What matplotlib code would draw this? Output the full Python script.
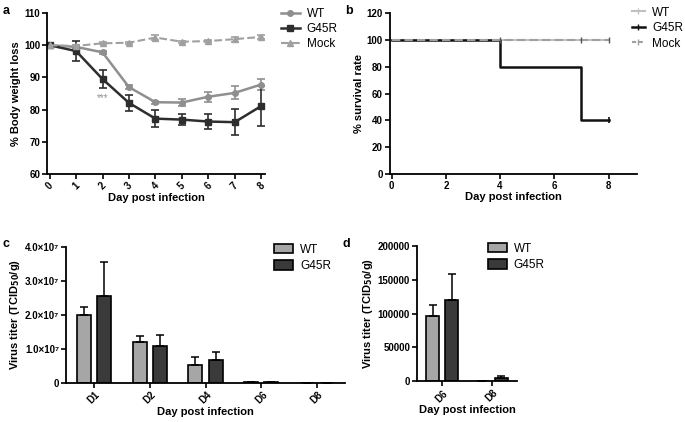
import matplotlib
matplotlib.use("Agg")
import matplotlib.pyplot as plt
from matplotlib.lines import Line2D
import numpy as np

# ---- Data ----
days = [0, 1, 2, 3, 4, 5, 6, 7, 8]
wt_weight = [100, 99.5, 97.8, 87.0, 82.3, 82.2, 84.0, 85.2, 87.8]
wt_err = [0.3, 0.5, 0.4, 0.5, 0.5, 1.0, 1.5, 2.0, 1.8]
g45r_weight = [100, 98.2, 89.5, 82.1, 77.2, 76.9, 76.3, 76.1, 81.1]
g45r_err = [0.3, 3.2, 2.9, 2.6, 2.7, 1.8, 2.4, 4.0, 6.2]
mock_weight = [100, 99.8, 100.6, 100.8, 102.4, 101.1, 101.3, 101.9, 102.6]
mock_err = [0.2, 0.3, 0.3, 0.3, 0.7, 0.3, 0.3, 0.8, 0.7]

surv_days = [0, 4, 7, 8]
wt_surv = [100, 100, 100, 100]
g45r_surv = [100, 80, 40, 40]
mock_surv = [100, 100, 100, 100]
censor_days = [4, 7, 8]

c_cats = ["D1", "D2", "D4", "D6", "D8"]
c_wt = [2.01e7, 1.21e7, 0.52e7, 0.02e7, 0.0]
c_wt_err = [0.23e7, 0.17e7, 0.24e7, 0.0, 0.0]
c_g45r = [2.55e7, 1.09e7, 0.67e7, 0.02e7, 0.0]
c_g45r_err = [1.00e7, 0.32e7, 0.25e7, 0.0, 0.0]
c_ticks = [0, 1e7, 2e7, 3e7, 4e7]
c_ticklabels = ["0", "1.0×10⁷", "2.0×10⁷", "3.0×10⁷", "4.0×10⁷"]

d_cats = ["D6", "D8"]
d_wt = [96000, 0]
d_wt_err = [17000, 0]
d_g45r = [120500, 4000]
d_g45r_err = [37500, 3400]
d_ticks = [0, 50000, 100000, 150000, 200000]

# ---- Style ----
plt.rcParams['font.family'] = ['Liberation Sans', 'DejaVu Sans']
C_WT = "#8f8f8f"
C_G45R = "#2e2e2e"
C_MOCK = "#a0a0a0"
BAR_WT = "#a6a6a6"
BAR_G = "#3a3a3a"

fig = plt.figure(figsize=(6.85, 4.22), dpi=100)

def style_axes(ax):
    for s in ["top", "right"]:
        ax.spines[s].set_visible(False)
    for s in ["left", "bottom"]:
        ax.spines[s].set_linewidth(1.3)
    ax.tick_params(width=1.2, length=3.5, labelsize=7, pad=1.5)
    for lab in ax.get_xticklabels() + ax.get_yticklabels():
        lab.set_fontweight("bold")

# ---- Panel a ----
axa = fig.add_axes([0.0686, 0.5877, 0.3184, 0.3813])
ekw = dict(fmt="none", capsize=3, elinewidth=1.2, capthick=1.2)
axa.errorbar(days, wt_weight, yerr=wt_err, ecolor=C_WT, **ekw)
axa.errorbar(days, g45r_weight, yerr=g45r_err, ecolor=C_G45R, **ekw)
axa.errorbar(days, mock_weight, yerr=mock_err, ecolor=C_MOCK, **ekw)
axa.plot(days, wt_weight, color=C_WT, marker="o", ms=4, lw=1.8, label="WT")
axa.plot(days, g45r_weight, color=C_G45R, marker="s", ms=4, lw=1.8, label="G45R")
axa.plot(days, mock_weight, color=C_MOCK, marker="^", ms=4, lw=1.5, ls="--",
         label="Mock")
axa.text(2, 83.6, "***", color=C_WT, ha="center", va="center", fontsize=7)
axa.set_ylim(60, 110)
axa.set_xlim(-0.1, 8.15)
axa.set_yticks([60, 70, 80, 90, 100, 110])
axa.set_xticks(days)
axa.set_xticklabels([str(d) for d in days], rotation=45)
axa.set_xlabel("Day post infection", fontsize=8, fontweight="bold", labelpad=1)
axa.set_ylabel("% Body weight loss", fontsize=8, fontweight="bold", labelpad=2)
style_axes(axa)
axa.legend(loc="upper left", bbox_to_anchor=(1.05, 1.06), frameon=False,
           fontsize=8.5, handlelength=1.6, borderaxespad=0, labelspacing=0.25,
           handletextpad=0.6)
fig.text(0.004, 0.975, "a", fontsize=9, fontweight="bold", va="center")

# ---- Panel b ----
axb = fig.add_axes([0.569, 0.5877, 0.361, 0.3813])
axb.step(surv_days, wt_surv, where="post", color="#c0c0c0", lw=1.5)
axb.step(surv_days, g45r_surv, where="post", color="#111111", lw=1.8)
axb.step(surv_days, mock_surv, where="post", color="#a0a0a0", lw=1.5, ls=(0, (4, 2)))
axb.plot(censor_days, [100] * len(censor_days), ls="none", marker="|", ms=5,
         color="#555555", mew=1)
axb.plot([8], [40], ls="none", marker="|", ms=5, color="#111111", mew=1.2)
axb.set_xlim(-0.07, 9.05)
axb.set_ylim(0, 120)
axb.set_xticks([0, 2, 4, 6, 8])
axb.set_yticks([0, 20, 40, 60, 80, 100, 120])
axb.set_xlabel("Day post infection", fontsize=8, fontweight="bold", labelpad=1)
axb.set_ylabel("% survival rate", fontsize=8, fontweight="bold", labelpad=2)
style_axes(axb)
hb = [Line2D([], [], color="#c0c0c0", lw=1.5, marker="|", ms=4, mew=1),
      Line2D([], [], color="#111111", lw=1.8, marker="|", ms=4, mew=1),
      Line2D([], [], color="#a0a0a0", lw=1.5, ls=(0, (2, 1.2)), marker="|", ms=4, mew=1)]
axb.legend(hb, ["WT", "G45R", "Mock"], loc="upper left",
           bbox_to_anchor=(0.96, 1.07), frameon=False,
           fontsize=8.5, handlelength=1.1, borderaxespad=0, labelspacing=0.3,
           handletextpad=0.6)
fig.text(0.504, 0.975, "b", fontsize=9, fontweight="bold", va="center")

# ---- Panel c ----
axc = fig.add_axes([0.0964, 0.0924, 0.4072, 0.3223])
x = np.arange(len(c_cats))
w = 0.25
off = 0.18
axc.bar(x - off, c_wt, w, color=BAR_WT, edgecolor="black", lw=1.2, label="WT")
axc.bar(x + off, c_g45r, w, color=BAR_G, edgecolor="black", lw=1.2, label="G45R")
axc.errorbar(x - off, c_wt, yerr=[np.zeros(len(c_wt)), c_wt_err], fmt="none",
             ecolor="black", elinewidth=1.1, capsize=3, capthick=1.1)
axc.errorbar(x + off, c_g45r, yerr=[np.zeros(len(c_g45r)), c_g45r_err], fmt="none",
             ecolor="black", elinewidth=1.1, capsize=3, capthick=1.1)
axc.set_xlim(-0.5, 4.5)
axc.set_ylim(0, 4e7)
axc.set_yticks(c_ticks)
axc.set_yticklabels(c_ticklabels)
axc.set_xticks(x)
axc.set_xticklabels(c_cats, rotation=45)
axc.set_xlabel("Day post infection", fontsize=8, fontweight="bold", labelpad=1)
axc.set_ylabel(r"Virus titer (TCID$_{\mathbf{50}}$/g)", fontsize=8,
               fontweight="bold", labelpad=2)
style_axes(axc)
axc.legend(loc="upper left", bbox_to_anchor=(0.73, 1.06), frameon=False,
           fontsize=8.5, handlelength=1.6, handleheight=0.9, borderaxespad=0,
           labelspacing=0.4, handletextpad=0.6)
fig.text(0.004, 0.422, "c", fontsize=9, fontweight="bold", va="center")

# ---- Panel d ----
axd = fig.add_axes([0.6088, 0.097, 0.1459, 0.32])
xd = np.arange(len(d_cats))
wd = 0.26
offd = 0.19
axd.bar(xd - offd, d_wt, wd, color=BAR_WT, edgecolor="black", lw=1.2, label="WT")
axd.bar(xd + offd, d_g45r, wd, color=BAR_G, edgecolor="black", lw=1.2, label="G45R")
axd.errorbar(xd - offd, d_wt, yerr=[np.zeros(len(d_wt)), d_wt_err], fmt="none",
             ecolor="black", elinewidth=1.1, capsize=3, capthick=1.1)
axd.errorbar(xd + offd, d_g45r, yerr=[np.zeros(len(d_g45r)), d_g45r_err], fmt="none",
             ecolor="black", elinewidth=1.1, capsize=3, capthick=1.1)
axd.set_xlim(-0.5, 1.5)
axd.set_ylim(0, 200000)
axd.set_yticks(d_ticks)
axd.set_xticks(xd)
axd.set_xticklabels(d_cats, rotation=45)
axd.set_xlabel("Day post infection", fontsize=8, fontweight="bold", labelpad=1)
axd.set_ylabel(r"Virus titer (TCID$_{\mathbf{50}}$/g)", fontsize=8,
               fontweight="bold", labelpad=2)
style_axes(axd)
axd.legend(loc="upper left", bbox_to_anchor=(0.66, 1.06), frameon=False,
           fontsize=8.5, handlelength=1.6, handleheight=0.9, borderaxespad=0,
           labelspacing=0.4, handletextpad=0.6)
fig.text(0.5, 0.422, "d", fontsize=9, fontweight="bold", va="center")

fig.savefig("out.png", dpi=100)
